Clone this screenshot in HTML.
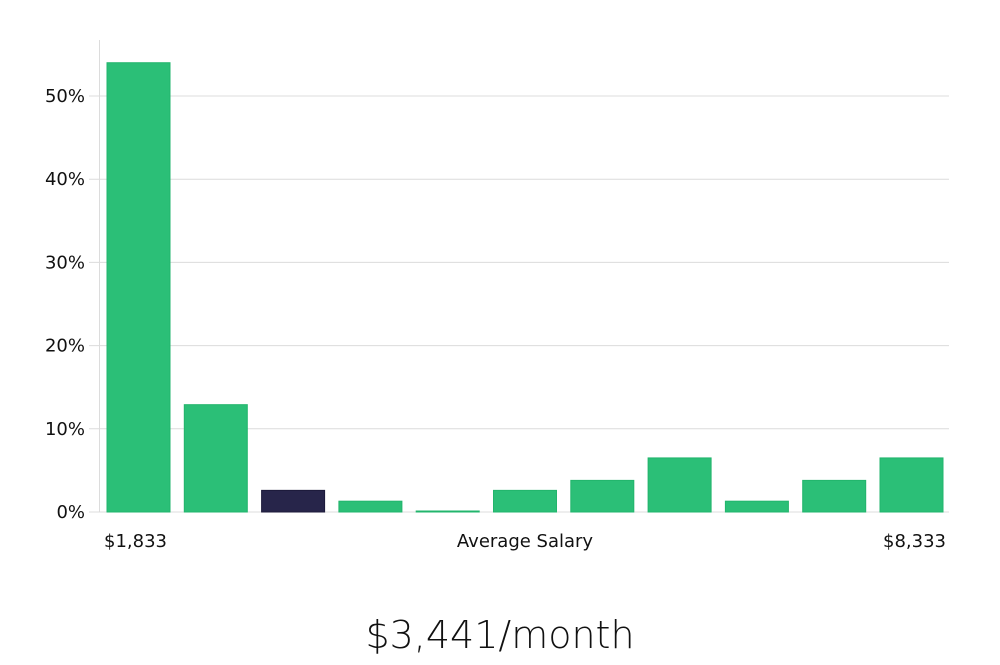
<!DOCTYPE html>
<html><head><meta charset="utf-8"><style>
body{margin:0;background:#fff;width:1000px;height:660px;overflow:hidden}
svg text{font-family:"DejaVu Sans","Liberation Sans",sans-serif}
</style></head><body>
<svg id="chart" width="1000" height="660" xmlns="http://www.w3.org/2000/svg">
<g id="grid"></g><g id="bars"></g><g id="labels"></g>
<text x="104" y="547" font-size="18" fill="#111">$1,833</text>
<text x="525" y="547" font-size="18" fill="#111" text-anchor="middle">Average Salary</text>
<text x="946" y="547" font-size="18" fill="#111" text-anchor="end">$8,333</text>
<text x="500" y="648" font-size="38" fill="#111" text-anchor="middle" style="font-family:'DejaVu Sans','Liberation Sans',sans-serif;font-weight:200">$3,441/month</text>
</svg>
<script>
const values=[54.0,12.9,2.6,1.3,0.1,2.6,3.8,6.5,1.3,3.8,6.5];
const highlightIndex=2;
const ticks=[0,10,20,30,40,50];
const tickLabels=["0%","10%","20%","30%","40%","50%"];
const NS="http://www.w3.org/2000/svg";
const y0=512,pxPer=8.32,x0=107,step=77.3,bw=63;
const y=v=>y0-v*pxPer;
const grid=document.getElementById('grid'),bars=document.getElementById('bars'),labels=document.getElementById('labels');
function mk(tag,attrs,parent){const e=document.createElementNS(NS,tag);for(const k in attrs)e.setAttribute(k,attrs[k]);parent.appendChild(e);return e;}
ticks.forEach((t,i)=>{
  const g=mk('line',{x1:89,x2:949,y1:y(t),y2:y(t),stroke:'#dcdcdc','stroke-width':1},grid);
  
  
  const l=mk('text',{x:85,y:y(t)+6,'font-size':18,fill:'#111','text-anchor':'end'},labels);
  l.textContent=tickLabels[i];
  
  
});
const ax=mk('line',{x1:99.5,x2:99.5,y1:40,y2:512,stroke:'#dcdcdc','stroke-width':1},grid);


values.forEach((v,i)=>{
  const hi=i===highlightIndex;
  const h=Math.max(v*pxPer,1);
  const r=mk('rect',{x:x0+i*step,y:y0-h,width:bw,height:h,fill:hi?'#27254a':'#2bbf77',stroke:hi?'#1c1a3a':'#22b56c','stroke-width':1},bars);
  
  
});
</script>
</body></html>
